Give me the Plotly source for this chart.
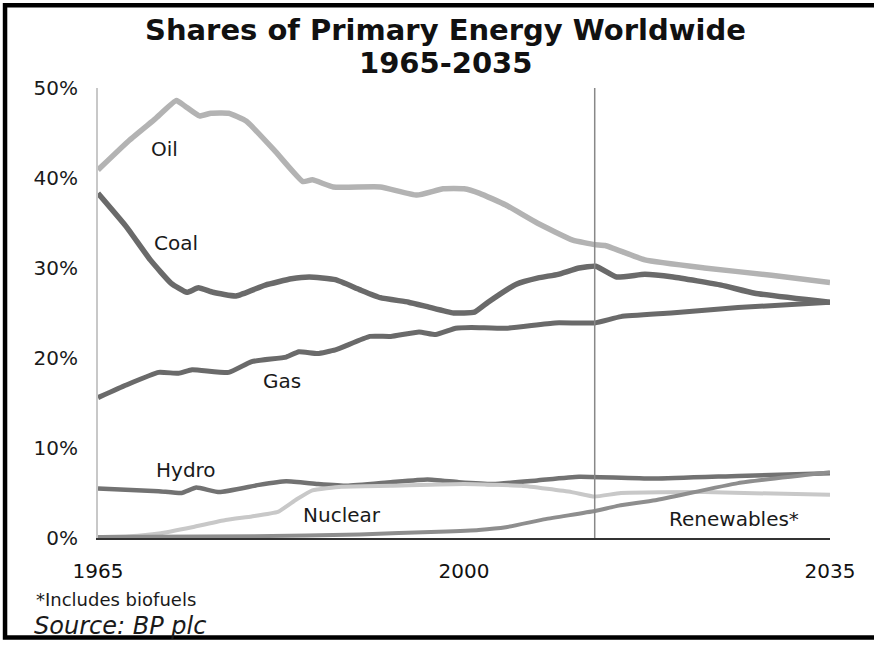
import plotly.graph_objects as go

# ---------------- data ----------------
oil_years = [1965, 1968, 1970.5, 1972.5, 1973.3, 1974.7, 1975.8, 1977.5, 1979.2, 1982, 1984.6, 1985.5,
             1987.5, 1992, 1995.5, 1998, 2000, 2001.5, 2004, 2007, 2010.4, 2012.5, 2013.5, 2017.3,
             2023, 2029.4, 2035]
oil_share = [40.9, 44.2, 46.6, 48.6, 48.0, 46.9, 47.2, 47.2, 46.3, 42.9, 39.6, 39.8,
             39.0, 39.0, 38.1, 38.8, 38.8, 38.3, 37.0, 35.0, 33.1, 32.6, 32.5, 30.9,
             30.0, 29.2, 28.4]

coal_years = [1965, 1967.7, 1970, 1972, 1973.5, 1974.6, 1976, 1978.2, 1981, 1983.5, 1985.2, 1987.7,
              1990, 1992, 1994.7, 1996.5, 1999, 2001, 2002.3, 2005, 2007.1, 2009, 2011, 2012.6,
              2014.6, 2017.3, 2020, 2024.6, 2027.8, 2035]
coal_share = [38.3, 34.6, 30.9, 28.3, 27.3, 27.8, 27.3, 26.9, 28.1, 28.8, 29.0, 28.7,
              27.6, 26.7, 26.2, 25.7, 25.0, 25.1, 26.2, 28.2, 28.9, 29.3, 30.0, 30.2,
              29.0, 29.3, 29.0, 28.1, 27.2, 26.2]

gas_years = [1965, 1967.7, 1970.8, 1972.7, 1974, 1977.5, 1979.7, 1983, 1984.2, 1986, 1987.7, 1991,
             1993, 1995.7, 1997.3, 1999.2, 2000.7, 2004, 2008.7, 2012.5, 2015, 2019.8, 2026.2, 2035]
gas_share = [15.6, 17.0, 18.4, 18.3, 18.7, 18.4, 19.6, 20.1, 20.7, 20.5, 20.9, 22.4,
             22.4, 22.9, 22.6, 23.3, 23.4, 23.3, 23.9, 23.9, 24.6, 25.0, 25.6, 26.2]

hydro_years = [1965, 1970.8, 1973, 1974.4, 1976.6, 1980.4, 1983, 1986, 1988.8, 1993, 1996.5, 1999.5,
               2002.8, 2007, 2011, 2018.3, 2026.2, 2035]
hydro_share = [5.5, 5.2, 5.0, 5.6, 5.1, 5.9, 6.3, 6.0, 5.8, 6.2, 6.5, 6.2,
               6.0, 6.4, 6.8, 6.6, 6.9, 7.2]

nuclear_years = [1965, 1968, 1970.8, 1974, 1977.2, 1979.7, 1982.2, 1984, 1985.5, 1988.3, 1993, 2000,
                 2005.5, 2010.3, 2012.5, 2015, 2023, 2035]
nuclear_share = [0.1, 0.2, 0.5, 1.2, 2.0, 2.4, 2.9, 4.3, 5.3, 5.7, 5.8, 6.0,
                 5.8, 5.1, 4.6, 5.0, 5.1, 4.8]

renew_years = [1965, 1980, 1990, 1997.6, 2001.4, 2004, 2007.8, 2012.5, 2014.8, 2018.3, 2026.2, 2035]
renew_share = [0.1, 0.2, 0.4, 0.7, 0.9, 1.2, 2.1, 3.0, 3.6, 4.2, 6.1, 7.3]

series_names = ["Oil", "Coal", "Gas", "Hydro", "Nuclear", "Renewables*"]
label_years = [1971.4, 1972.5, 1982.6, 1973.4, 1988.3, 2025.8]
label_shares = [43.2, 32.8, 17.4, 7.6, 2.55, 2.1]

forecast_start = 2012.5
x_tick_vals = [1965, 2000, 2035]
x_tick_text = ["1965", "2000", "2035"]
y_tick_vals = [0, 10, 20, 30, 40, 50]
y_tick_text = ["0%", "10%", "20%", "30%", "40%", "50%"]

title_line1 = "Shares of Primary Energy Worldwide"
title_line2 = "1965-2035"
footnote = "*Includes biofuels"
source = "Source: BP plc"

# ---------------- figure ----------------
FONT = "DejaVu Sans"
fig = go.Figure()

styles = [
    (oil_years, oil_share, "#b3b3b3", 5.5),
    (coal_years, coal_share, "#6a6a6a", 5.5),
    (gas_years, gas_share, "#6a6a6a", 5),
    (hydro_years, hydro_share, "#727272", 4.5),
    (nuclear_years, nuclear_share, "#c8c8c8", 4),
    (renew_years, renew_share, "#8e8e8e", 4),
]
for name, (xs, ys, col, w) in zip(series_names, styles):
    fig.add_trace(go.Scatter(x=xs, y=ys, mode="lines", name=name,
                             line=dict(color=col, width=w, shape="spline", smoothing=0.4),
                             showlegend=False, hoverinfo="skip"))

# vertical divider between history and projection
fig.add_shape(type="line", xref="x", yref="y", x0=forecast_start, x1=forecast_start,
              y0=0, y1=50.5, line=dict(color="#888888", width=1.5))

for name, lx, ly in zip(series_names, label_years, label_shares):
    fig.add_annotation(x=lx, y=ly, xref="x", yref="y", text=name, showarrow=False,
                       font=dict(family=FONT, size=20, color="#1a1a1a"),
                       xanchor="center", yanchor="middle")

# titles & footnotes
fig.add_annotation(xref="paper", yref="paper", x=0.475, y=1.129, text=title_line1,
                   showarrow=False, xanchor="center", yanchor="middle",
                   font=dict(family=FONT, size=29, color="#111111", weight="bold"))
fig.add_annotation(xref="paper", yref="paper", x=0.475, y=1.056, text=title_line2,
                   showarrow=False, xanchor="center", yanchor="middle",
                   font=dict(family=FONT, size=29, color="#111111", weight="bold"))
fig.add_annotation(xref="paper", yref="paper", x=-0.088, y=-0.136, text=footnote,
                   showarrow=False, xanchor="left", yanchor="middle",
                   font=dict(family=FONT, size=18, color="#1a1a1a"))
fig.add_annotation(xref="paper", yref="paper", x=-0.09, y=-0.196, text=source,
                   showarrow=False, xanchor="left", yanchor="middle",
                   font=dict(family=FONT, size=24, color="#1a1a1a", style="italic"))

# frame (black border at top, left, bottom)
fig.add_shape(type="rect", xref="paper", yref="paper", x0=-0.127, x1=1.08, y0=-0.221, y1=1.184,
              line=dict(color="#000000", width=4.5), layer="above")

fig.update_layout(
    width=874, height=646, autosize=False,
    margin=dict(l=98, r=44, t=88, b=108, pad=0),
    paper_bgcolor="white", plot_bgcolor="white",
    font=dict(family=FONT, color="#1a1a1a"),
    xaxis=dict(range=[1965, 2035], tickvals=x_tick_vals, ticktext=x_tick_text,
               showgrid=False, zeroline=False, showline=True, linecolor="#333333", linewidth=2,
               ticks="", ticklabelstandoff=14, tickfont=dict(family=FONT, size=20, color="#111111")),
    yaxis=dict(range=[0, 50], tickvals=y_tick_vals, ticktext=y_tick_text,
               showgrid=False, zeroline=False, showline=True, linecolor="#c8c8c8", linewidth=2,
               ticks="", ticklabelstandoff=14, tickfont=dict(family=FONT, size=20, color="#1a1a1a")),
)

fig.write_html("out.html")
